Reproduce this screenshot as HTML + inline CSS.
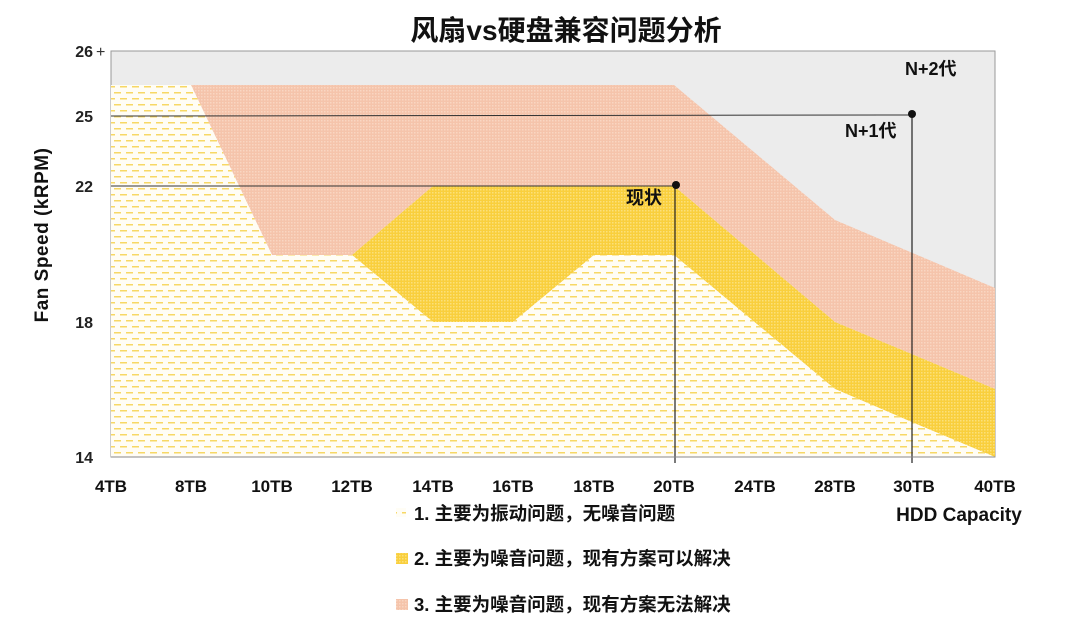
<!DOCTYPE html>
<html><head><meta charset="utf-8"><style>
body{margin:0;background:#fff;}
svg{display:block;font-family:"Liberation Sans","Noto Sans CJK SC",sans-serif;}
</style></head><body>
<svg width="1080" height="630" viewBox="0 0 1080 630" xmlns="http://www.w3.org/2000/svg">
<defs>
<pattern id="dash" width="12" height="12" patternUnits="userSpaceOnUse">
<rect width="12" height="12" fill="#fffdf5"/>
<rect x="0" y="2" width="7" height="1.5" fill="#f7d865"/>
<rect x="6" y="8" width="7" height="1.5" fill="#f7d865"/>
<rect x="-6" y="8" width="7" height="1.5" fill="#f7d865"/>
</pattern>
<pattern id="yel" width="3" height="3" patternUnits="userSpaceOnUse">
<rect width="3" height="3" fill="#f9cf3d"/>
<rect width="1.5" height="1.5" fill="#fbe07a"/>
</pattern>
<pattern id="pink" width="3" height="3" patternUnits="userSpaceOnUse">
<rect width="3" height="3" fill="#f5c4ab"/>
<rect width="1.5" height="1.5" fill="#f9d6c2"/>
</pattern>
</defs>
<text x="566" y="40" text-anchor="middle" font-size="28" font-weight="bold" fill="#111">风扇vs硬盘兼容问题分析</text>
<rect x="111" y="51" width="884" height="406" fill="#ececec" stroke="#999" stroke-width="1"/>
<polygon fill="url(#pink)" points="191,85 674,85 835,220 995,288 995,389 914,355 835,322 674,186 433,186 352,255 272,255"/>
<polygon fill="url(#yel)" points="352,255 433,186 674,186 835,322 914,355 995,389 995,457 914,423 835,389 674,255 594,255 513,322 433,322"/>
<polygon fill="url(#dash)" points="111,85 191,85 272,255 352,255 433,322 513,322 594,255 674,255 835,389 914,423 995,457 111,457"/>
<line x1="111" y1="116" x2="912" y2="115" stroke="#333" stroke-width="1"/>
<line x1="111" y1="186" x2="676" y2="186" stroke="#333" stroke-width="1"/>
<line x1="675" y1="186" x2="675" y2="463" stroke="#222" stroke-width="1.2"/>
<line x1="912" y1="114" x2="912" y2="463" stroke="#222" stroke-width="1.2"/>
<circle cx="676" cy="185" r="4" fill="#111"/>
<circle cx="912" cy="114" r="4" fill="#111"/>
<line x1="111" y1="457" x2="995" y2="457" stroke="#888"/>
<g font-size="18" font-weight="bold" fill="#111">
<text x="626" y="204">现状</text>
<text x="845" y="137">N+1代</text>
<text x="905" y="75">N+2代</text>
</g>
<g font-size="16" font-weight="bold" fill="#222" text-anchor="end">
<text x="93" y="57">26</text><text x="93" y="122">25</text><text x="93" y="192">22</text><text x="93" y="328">18</text><text x="93" y="463">14</text>
</g>
<text x="96" y="57" font-size="16" fill="#333">+</text>
<text transform="translate(48,235) rotate(-90)" text-anchor="middle" font-size="19" font-weight="bold" fill="#111" letter-spacing="0.5">Fan Speed (kRPM)</text>
<g font-size="17" font-weight="bold" fill="#111" text-anchor="middle">
<text x="111" y="492">4TB</text><text x="191" y="492">8TB</text><text x="272" y="492">10TB</text><text x="352" y="492">12TB</text><text x="433" y="492">14TB</text><text x="513" y="492">16TB</text><text x="594" y="492">18TB</text><text x="674" y="492">20TB</text><text x="755" y="492">24TB</text><text x="835" y="492">28TB</text><text x="914" y="492">30TB</text><text x="995" y="492">40TB</text>
</g>
<text x="959" y="521" text-anchor="middle" font-size="19" font-weight="bold" fill="#111">HDD Capacity</text>
<rect x="396" y="508" width="10" height="9" fill="url(#dash)"/>
<rect x="396" y="553" width="12" height="11" fill="url(#yel)"/>
<rect x="396" y="599" width="12" height="11" fill="url(#pink)"/>
<g font-size="18.5" font-weight="bold" fill="#111">
<text x="414" y="520">1. 主要为振动问题，无噪音问题</text>
<text x="414" y="565">2. 主要为噪音问题，现有方案可以解决</text>
<text x="414" y="611">3. 主要为噪音问题，现有方案无法解决</text>
</g>
</svg>
</body></html>
